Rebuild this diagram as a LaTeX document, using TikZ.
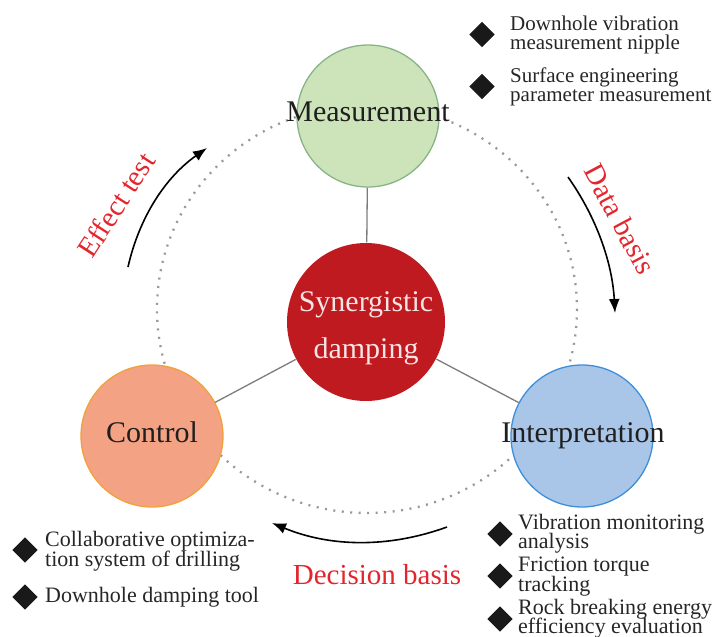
\documentclass[tikz,border=0pt]{standalone}
\usepackage{fontspec}
\setmainfont{Liberation Serif}
\usetikzlibrary{shapes.geometric,arrows.meta}
\definecolor{measfill}{HTML}{CDE4BA}
\definecolor{measdraw}{HTML}{86B486}
\definecolor{synfill}{HTML}{BF1A20}
\definecolor{syntext}{HTML}{F7E4E4}
\definecolor{ctlfill}{HTML}{F3A283}
\definecolor{ctldraw}{HTML}{F0A13A}
\definecolor{intfill}{HTML}{A9C5E8}
\definecolor{intdraw}{HTML}{3D8FD9}
\definecolor{labred}{HTML}{E3262D}
\definecolor{conngray}{HTML}{7C7C7C}
\definecolor{dotgray}{HTML}{999999}
\begin{document}
\begin{tikzpicture}[x=1pt,y=-1pt,
  bigcirc/.style={circle,inner sep=0pt,minimum size=142pt,line width=1.3pt},
  conn/.style={draw=conngray,line width=1.3pt},
  mainlbl/.style={font=\fontsize{30}{30}\selectfont,text=black!88,inner sep=0pt},
  redlbl/.style={font=\fontsize{29}{29}\selectfont,text=labred,inner sep=0pt},
  bul/.style={diamond,fill=black!90,draw=black!90,line width=1pt,inner sep=0pt,outer sep=0pt,minimum width=24pt,minimum height=24pt},
  btxt/.style={font=\fontsize{22}{22}\selectfont,text=black!85,anchor=base west,inner sep=0pt},
  flow/.style={line width=1.6pt,-{Latex[length=14pt,width=11pt]}},
  dotring/.style={draw=dotgray,line width=2.3pt,dash pattern=on 2pt off 6.5pt}
]
\useasboundingbox (0,0) rectangle (712,637);
\draw[dotring] (367,309) ellipse [x radius=210, y radius=204];

\node[bigcirc,fill=measfill,draw=measdraw] (meas) at (368,116) {};
\node[bigcirc,fill=synfill,minimum size=158pt] (syn) at (366,322) {};
\node[bigcirc,fill=ctlfill,draw=ctldraw] (ctl) at (152,436) {};
\node[bigcirc,fill=intfill,draw=intdraw] (intp) at (582,436) {};

\draw[conn] (meas) -- (syn);
\draw[conn] (ctl) -- (syn);
\draw[conn] (intp) -- (syn);

\node[mainlbl,anchor=base] (measT) at (368,121) {Measurement};
\node[mainlbl,anchor=base] (ctlT) at (152,442) {Control};
\node[mainlbl,anchor=base] (intT) at (583,442) {Interpretation};
\node[mainlbl,anchor=base,text=syntext] (synT1) at (366,311) {Synergistic};
\node[mainlbl,anchor=base,text=syntext] (synT2) at (366,358) {damping};

\node[redlbl,rotate=57] (effL) at (116,205) {Effect test};
\node[redlbl,rotate=-62] (datL) at (620,219) {Data basis};
\node[redlbl,anchor=base] (decL) at (377,584) {Decision basis};

\coordinate (effA) at (128,267);
\coordinate (effC1) at (139.3,217);
\coordinate (effC2) at (165.7,177);
\coordinate (effB) at (207,148);
\coordinate (datA) at (568,177);
\coordinate (datC1) at (596.7,217.7);
\coordinate (datC2) at (612.3,263);
\coordinate (datB) at (615,313);
\coordinate (decA) at (447,527);
\coordinate (decC1) at (388.3,548.3);
\coordinate (decC2) at (330,547);
\coordinate (decB) at (272,523);
\draw[flow] (effA) .. controls (effC1) and (effC2) .. (effB);
\draw[flow] (datA) .. controls (datC1) and (datC2) .. (datB);
\draw[flow] (decA) .. controls (decC1) and (decC2) .. (decB);

\node[bul] (b1) at (482,34.5) {};
\node[btxt,font=\fontsize{21}{21}\selectfont] (t1a) at (510,30) {Downhole vibration};
\node[btxt,font=\fontsize{21}{21}\selectfont] (t1b) at (510,49) {measurement nipple};
\node[bul] (b2) at (482,86.5) {};
\node[btxt,font=\fontsize{21}{21}\selectfont] (t2a) at (510,82) {Surface engineering};
\node[btxt,font=\fontsize{21}{21}\selectfont] (t2b) at (510,101) {parameter measurement};

\node[bul] (b3) at (25,550) {};
\node[btxt] (t3a) at (45,546) {Collaborative optimiza-};
\node[btxt] (t3b) at (45,566) {tion system of drilling};
\node[bul] (b4) at (25,597) {};
\node[btxt] (t4) at (45,602) {Downhole damping tool};

\node[bul] (b5) at (500,534) {};
\node[btxt] (t5a) at (518,529) {Vibration monitoring};
\node[btxt] (t5b) at (518,548.5) {analysis};
\node[bul] (b6) at (500,576) {};
\node[btxt] (t6a) at (518,571) {Friction torque};
\node[btxt] (t6b) at (518,591) {tracking};
\node[bul] (b7) at (500,619) {};
\node[btxt] (t7a) at (518,614) {Rock breaking energy};
\node[btxt] (t7b) at (518,633.5) {efficiency evaluation};
\end{tikzpicture}
\end{document}
